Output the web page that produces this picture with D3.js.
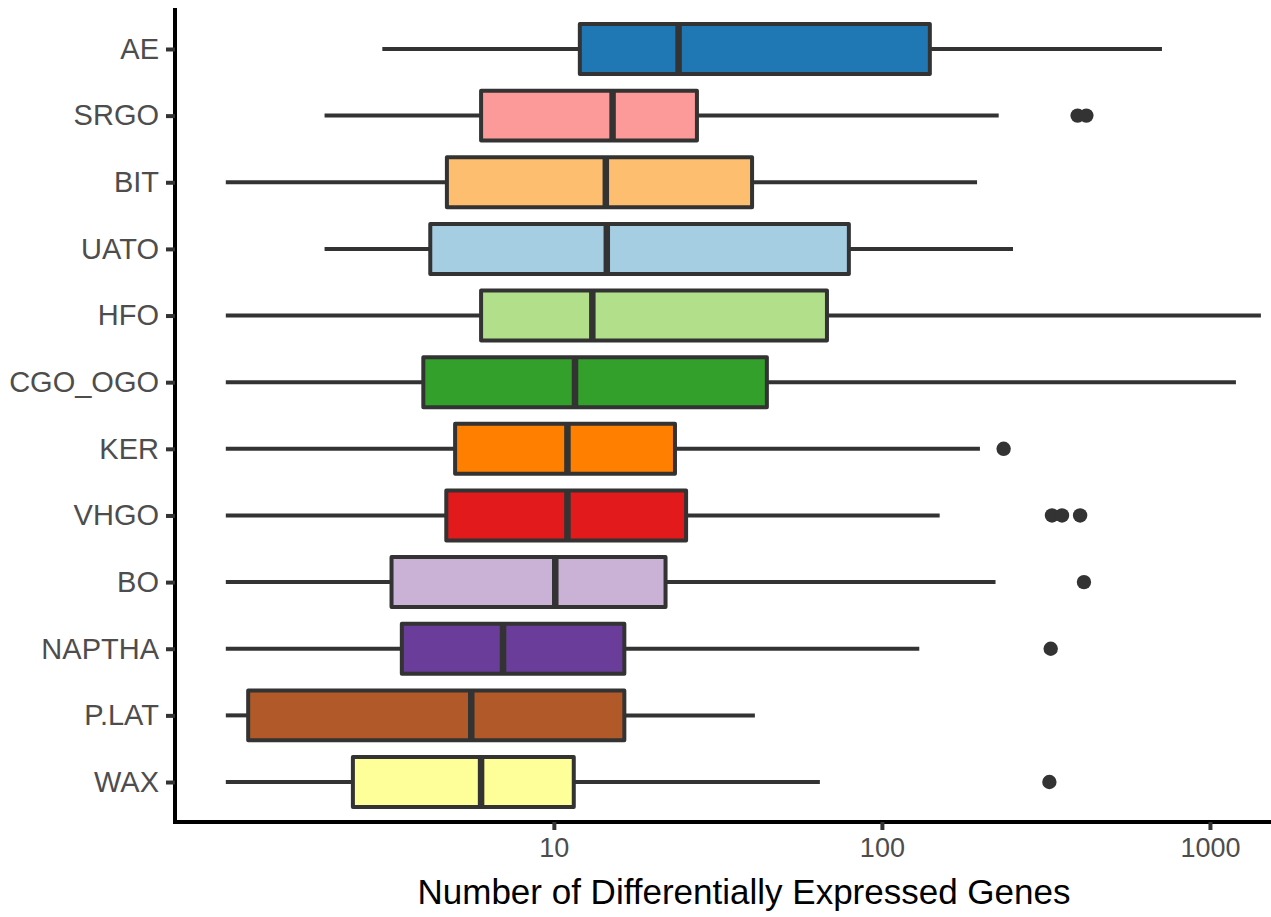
<!DOCTYPE html>
<html>
<head>
<meta charset="utf-8">
<script src="https://cdn.jsdelivr.net/npm/d3@7"></script>
<style>
  html, body { margin: 0; padding: 0; background: #fff; }
  svg { display: block; }
</style>
</head>
<body>
<svg id="chart" width="1271" height="917"></svg>
<script>
const categories = ["AE","SRGO","BIT","UATO","HFO","CGO_OGO","KER","VHGO","BO","NAPTHA","P.LAT","WAX"];
const lowerWhisker = [3.0, 2.0, 1, 2.0, 1, 1, 1, 1, 1, 1, 1, 1];
const q1 =           [12, 6.0, 4.72, 4.2, 6.0, 4.0, 5.0, 4.7, 3.2, 3.44, 1.17, 2.44];
const medians =      [24, 15.1, 14.4, 14.5, 13.1, 11.6, 11.0, 11.0, 10.1, 7.0, 5.6, 6.0];
const q3 =           [140, 27.3, 40.2, 79.3, 68, 44.6, 23.4, 25.3, 21.9, 16.4, 16.4, 11.5];
const upperWhisker = [714, 227, 195, 251, 1430, 1200, 199, 150, 222, 130, 41, 64.7];
const outliers = [[], [395, 420], [], [], [], [], [235], [330, 354, 402], [413], [327], [], [324]];
const fillColors = ["#1F78B4","#FB9A99","#FDBF6F","#A6CEE3","#B2DF8A","#33A02C","#FF7F00","#E31A1C","#CAB2D6","#6A3D9A","#B15928","#FFFF99"];
const xTickValues = [10, 100, 1000];
const xTitle = "Number of Differentially Expressed Genes";

(function () {
const svg = d3.select("#chart");
const mLeft = 175, mRight = 1271, mTop = 9, mBottom = 822;

const x = d3.scaleLog().domain([0.7, 1535]).range([mLeft, mRight]);
const y = d3.scalePoint().domain(categories).range([mTop, mBottom]).padding(0.6);
const boxH = y.step() * 0.75;

const rows = categories.map((c, i) => ({
  cat: c, lo: lowerWhisker[i], q1: q1[i], med: medians[i], q3: q3[i], hi: upperWhisker[i],
  out: outliers[i], fill: fillColors[i]
}));

const g = svg.append("g");
const lineCol = "#333333";
const lw = 4;

g.selectAll(".wl").data(rows).join("line")
  .attr("x1", d => x(d.lo)).attr("x2", d => x(d.q1))
  .attr("y1", d => y(d.cat)).attr("y2", d => y(d.cat))
  .attr("stroke", lineCol).attr("stroke-width", lw);
g.selectAll(".wh").data(rows).join("line")
  .attr("x1", d => x(d.q3)).attr("x2", d => x(d.hi))
  .attr("y1", d => y(d.cat)).attr("y2", d => y(d.cat))
  .attr("stroke", lineCol).attr("stroke-width", lw);

g.selectAll(".box").data(rows).join("rect")
  .attr("x", d => x(d.q1)).attr("width", d => x(d.q3) - x(d.q1))
  .attr("y", d => y(d.cat) - boxH / 2).attr("height", boxH)
  .attr("fill", d => d.fill).attr("stroke", lineCol).attr("stroke-width", lw)
  .attr("stroke-linejoin", "round");

g.selectAll(".med").data(rows).join("line")
  .attr("x1", d => x(d.med)).attr("x2", d => x(d.med))
  .attr("y1", d => y(d.cat) - boxH / 2).attr("y2", d => y(d.cat) + boxH / 2)
  .attr("stroke", lineCol).attr("stroke-width", 6.5);

const outPts = rows.flatMap(d => d.out.map(v => ({cat: d.cat, v})));
g.selectAll(".out").data(outPts).join("circle")
  .attr("cx", d => x(d.v)).attr("cy", d => y(d.cat)).attr("r", 7.2)
  .attr("fill", lineCol);

const xAxis = svg.append("g").attr("transform", `translate(0,${mBottom})`)
  .call(d3.axisBottom(x).tickValues(xTickValues).tickFormat(d3.format("d")).tickSize(8).tickSizeOuter(0).tickPadding(8));
const yAxis = svg.append("g").attr("transform", `translate(${mLeft},0)`)
  .call(d3.axisLeft(y).tickSize(9).tickSizeOuter(0).tickPadding(7));

[xAxis, yAxis].forEach(a => {
  a.select(".domain").attr("stroke", "#000").attr("stroke-width", 4);
  a.selectAll(".tick line").attr("stroke", lineCol).attr("stroke-width", 4);
  a.selectAll(".tick text").attr("fill", "#4D4D4D")
    .style("font-family", "'Liberation Sans', Arial, sans-serif");
});
xAxis.selectAll(".tick text").style("font-size", "27px");
yAxis.selectAll(".tick text").style("font-size", "29px");
xAxis.select(".domain").attr("d", `M${mLeft - 2},0H${mRight}`);
yAxis.select(".domain").attr("d", `M0,${mTop - 1}V${mBottom + 2}`);

svg.append("text")
  .attr("x", 744).attr("y", 904)
  .attr("text-anchor", "middle")
  .style("font-family", "'Liberation Sans', Arial, sans-serif")
  .style("font-size", "35px").attr("fill", "#000")
  .text(xTitle);
})();
</script>
</body>
</html>
